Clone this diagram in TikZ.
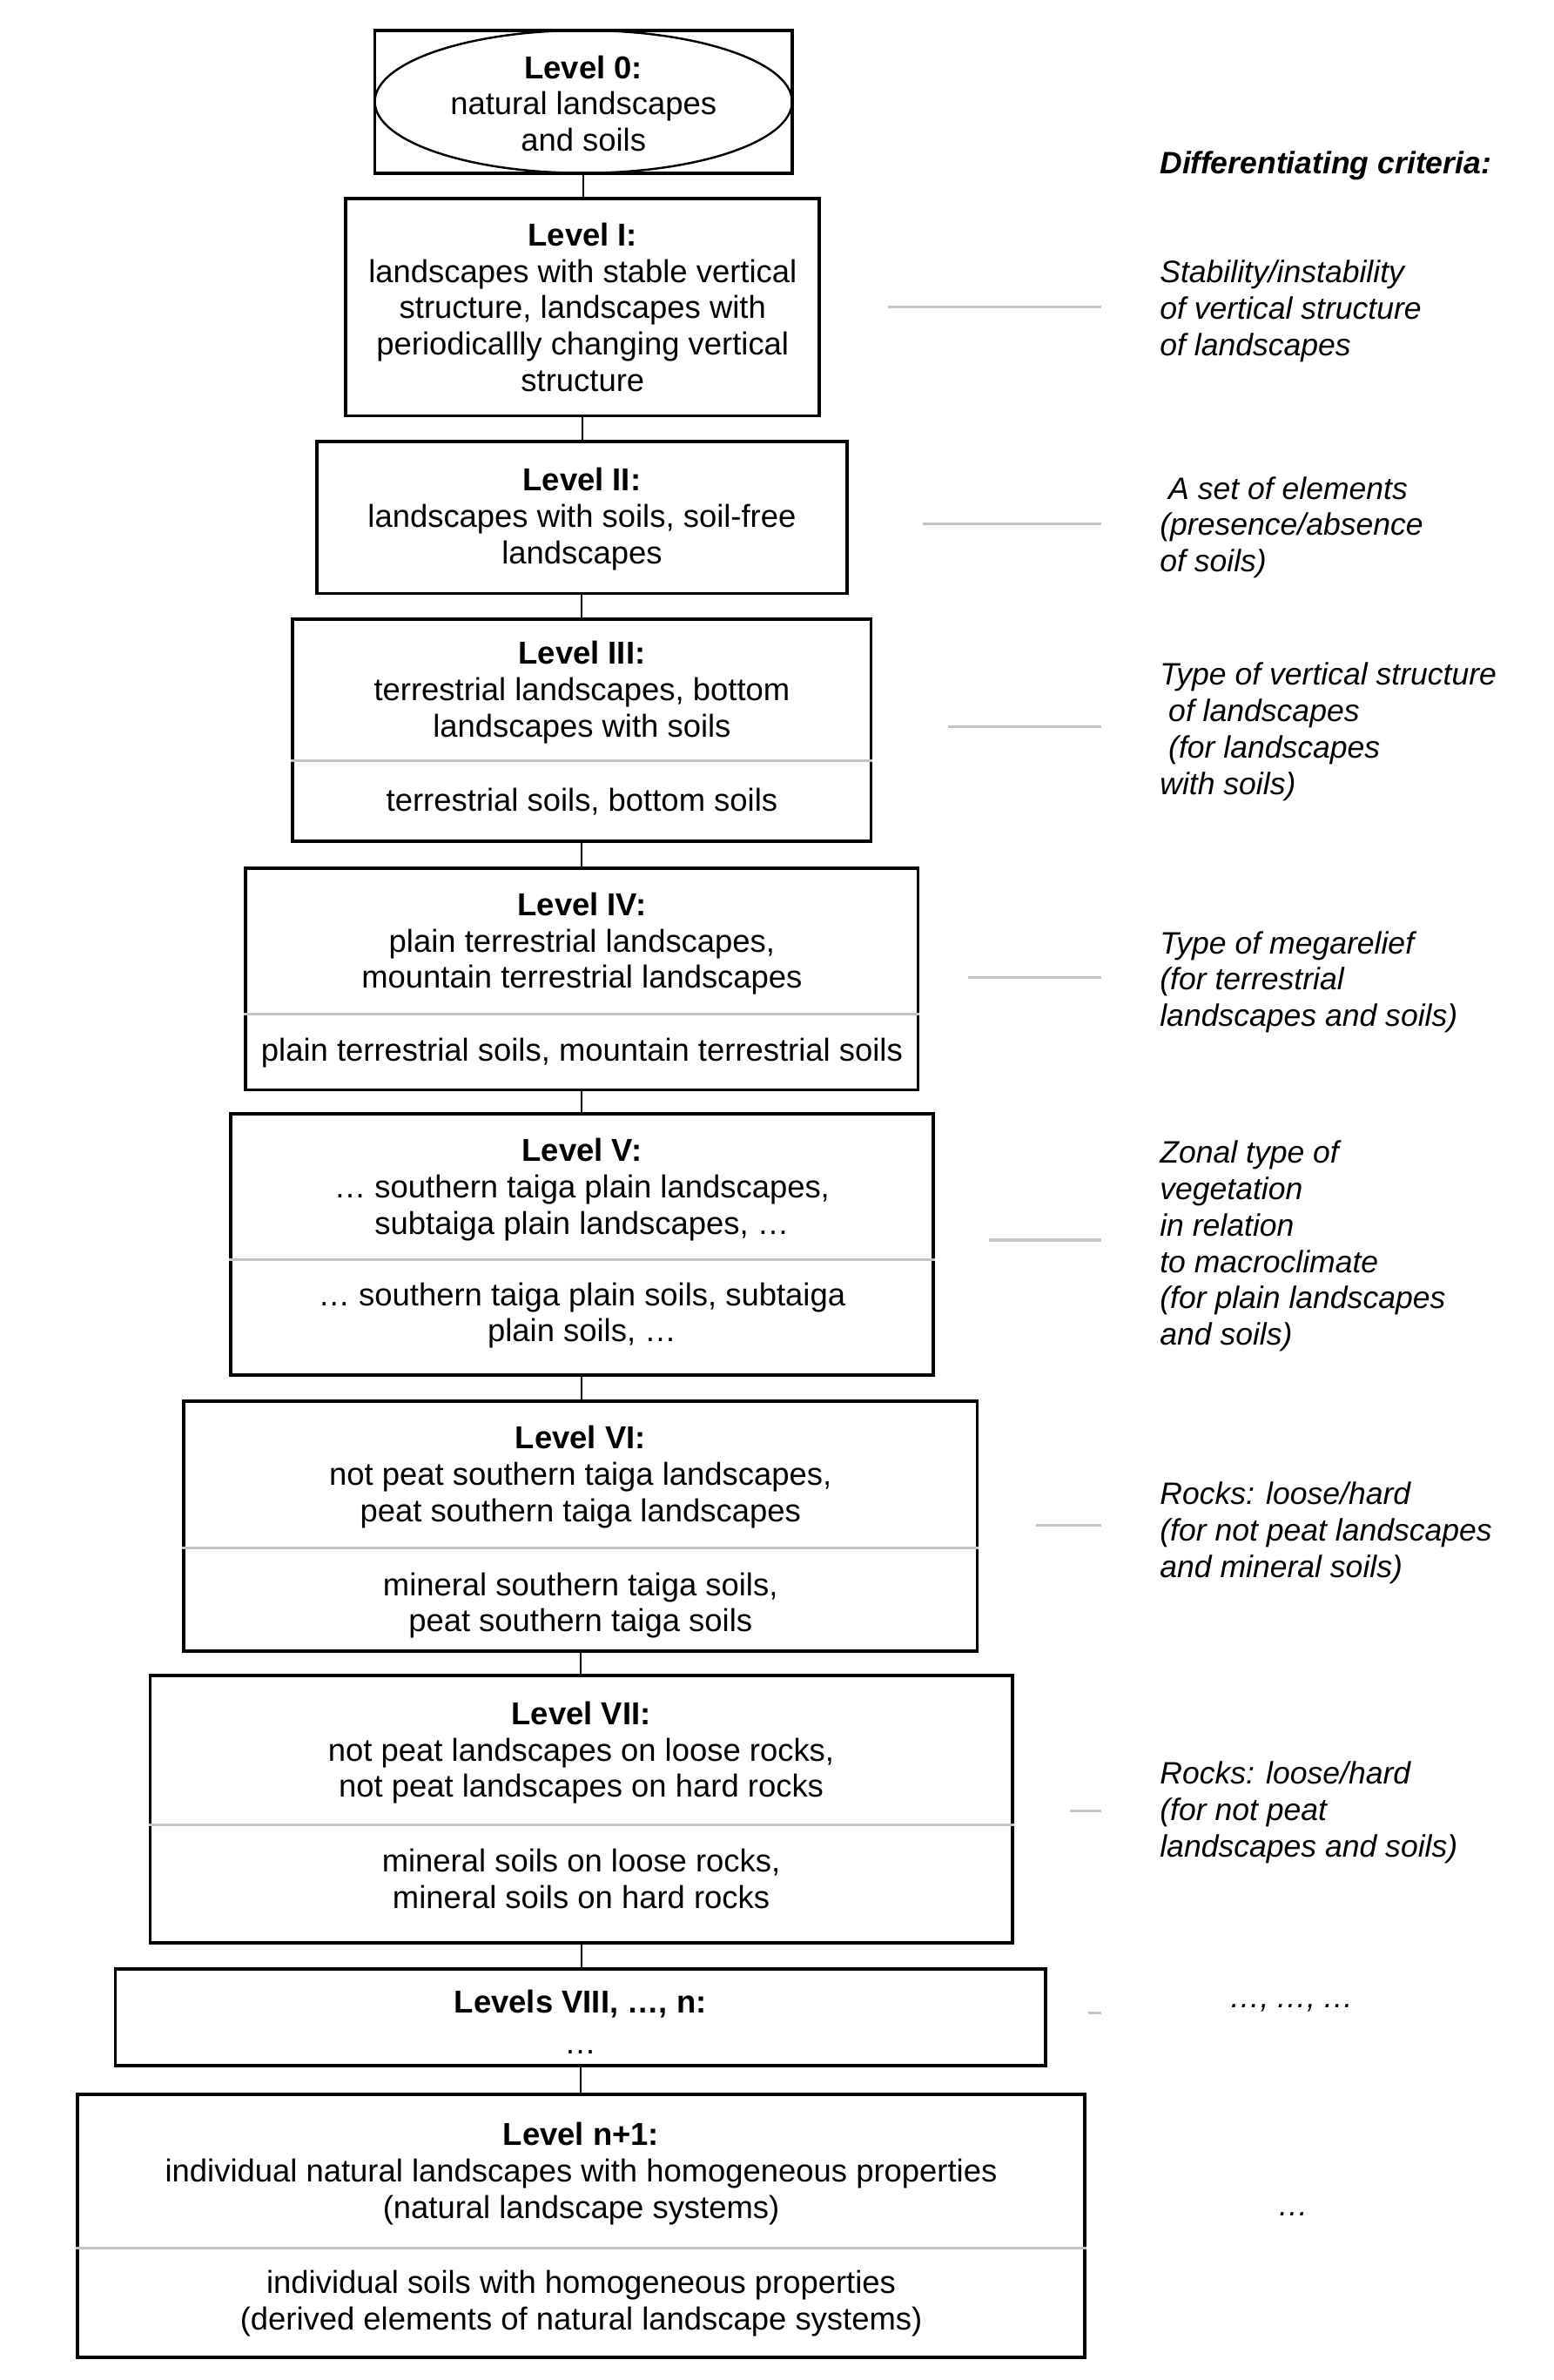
\documentclass[tikz,border=0pt]{standalone}
\usepackage{fontspec}
\setmainfont{Liberation Sans}
\usetikzlibrary{shapes.geometric}
\definecolor{gridgray}{HTML}{C4C4C4}
\newcommand\boxfont{\fontsize{10.45pt}{12pt}\selectfont}
\newcommand\critfont{\fontsize{10.2pt}{12pt}\selectfont\itshape}
\begin{document}
\begin{tikzpicture}[x=0.5pt,y=-0.5pt,
  lvbox/.style={draw, line width=1.1pt, inner sep=0pt},
  part/.style={inner sep=0pt, align=center, font=\boxfont},
  upper/.style={part, anchor=north, yshift=-1.2pt},
  lower/.style={part, anchor=south},
  crit/.style={anchor=west, align=left, inner sep=0pt, font=\critfont, yshift=-1pt},
  critline/.style={draw=gridgray, line width=0.9pt},
  divider/.style={draw=gridgray, line width=0.9pt},
  conn/.style={line width=0.6pt}]
\useasboundingbox (0,0) rectangle (1024,1568);
\fill[white] (0,0) rectangle (1024,1568);

% Level 0
\node[lvbox, minimum width=137.5pt, minimum height=47pt] (L0) at (384.5,67) {};
\node[draw, ellipse, line width=0.7pt, minimum width=137.5pt, minimum height=47pt] (L0e) at (384.5,67) {};
\node[part, yshift=-0.6pt] (L0t) at (L0e.center) {\textbf{Level 0:}\\natural landscapes\\and soils};

% Level I
\node[lvbox, minimum width=156pt, minimum height=71.5pt] (L1) at (384,202.5) {};
\node[part] (L1a) at (L1.center) {\textbf{Level I:}\\landscapes with stable vertical\\structure, landscapes with\\periodicallly changing vertical\\structure};

% Level II
\node[lvbox, minimum width=174.5pt, minimum height=50pt] (L2) at (383.5,341) {};
\node[part, yshift=-0.5pt] (L2a) at (L2.center) {\textbf{Level II:}\\landscapes with soils, soil-free\\landscapes};

% Level III
\node[lvbox, minimum width=190.5pt, minimum height=73pt] (L3) at (383.5,481) {};
\node[upper, minimum width=190.5pt, minimum height=46.5pt] (L3a) at (L3.north) {\textbf{Level III:}\\terrestrial landscapes, bottom\\landscapes with soils};
\node[lower, minimum width=190.5pt, minimum height=26.5pt] (L3b) at (L3.south) {terrestrial soils, bottom soils};
\draw[divider] (L3.west |- 0,501) -- (L3.east |- 0,501);

% Level IV
\node[lvbox, minimum width=221.5pt, minimum height=73pt] (L4) at (383.5,645) {};
\node[upper, minimum width=221.5pt, minimum height=48pt] (L4a) at (L4.north) {\textbf{Level IV:}\\plain terrestrial landscapes,\\mountain terrestrial landscapes};
\node[lower, minimum width=221.5pt, minimum height=25pt] (L4b) at (L4.south) {plain terrestrial soils, mountain terrestrial soils};
\draw[divider] (L4.west |- 0,668) -- (L4.east |- 0,668);

% Level V
\node[lvbox, minimum width=231.5pt, minimum height=86pt] (L5) at (383.5,820) {};
\node[upper, minimum width=231.5pt, minimum height=48pt] (L5a) at (L5.north) {\textbf{Level V:}\\… southern taiga plain landscapes,\\subtaiga plain landscapes, …};
\node[lower, minimum width=231.5pt, minimum height=38pt, yshift=1pt] (L5b) at (L5.south) {… southern taiga plain soils, subtaiga\\plain soils, …};
\draw[divider] (L5.west |- 0,830) -- (L5.east |- 0,830);

% Level VI
\node[lvbox, minimum width=261.5pt, minimum height=82.5pt] (L6) at (382.5,1005.5) {};
\node[upper, minimum width=261.5pt, minimum height=48.5pt] (L6a) at (L6.north) {\textbf{Level VI:}\\not peat southern taiga landscapes,\\peat southern taiga landscapes};
\node[lower, minimum width=261.5pt, minimum height=34pt, yshift=-1.5pt] (L6b) at (L6.south) {mineral southern taiga soils,\\peat southern taiga soils};
\draw[divider] (L6.west |- 0,1020) -- (L6.east |- 0,1020);

% Level VII
\node[lvbox, minimum width=284pt, minimum height=88pt] (L7) at (383,1192) {};
\node[upper, minimum width=284pt, minimum height=49pt] (L7a) at (L7.north) {\textbf{Level VII:}\\not peat landscapes on loose rocks,\\not peat landscapes on hard rocks};
\node[lower, minimum width=284pt, minimum height=39pt, yshift=2pt] (L7b) at (L7.south) {mineral soils on loose rocks,\\mineral soils on hard rocks};
\draw[divider] (L7.west |- 0,1202) -- (L7.east |- 0,1202);

% Levels VIII ... n
\node[lvbox, minimum width=306.5pt, minimum height=32pt] (L8) at (382.5,1329) {};
\node[part, yshift=-1.5pt] (L8a) at (L8.center) {\textbf{Levels VIII, …, n:}\\[1.5pt]…};

% Level n+1
\node[lvbox, minimum width=332pt, minimum height=86.5pt] (L9) at (383,1466.5) {};
\node[upper, minimum width=332pt, minimum height=50.5pt] (L9a) at (L9.north) {\textbf{Level n+1:}\\individual natural landscapes with homogeneous properties\\(natural landscape systems)};
\node[lower, minimum width=332pt, minimum height=36pt] (L9b) at (L9.south) {individual soils with homogeneous properties\\(derived elements of natural landscape systems)};
\draw[divider] (L9.west |- 0,1481) -- (L9.east |- 0,1481);

% vertical connectors
\draw[conn] (L0.south) -- (L0.south |- L1.north);
\draw[conn] (L1.south) -- (L1.south |- L2.north);
\draw[conn] (L2.south) -- (L2.south |- L3.north);
\draw[conn] (L3.south) -- (L3.south |- L4.north);
\draw[conn] (L4.south) -- (L4.south |- L5.north);
\draw[conn] (L5.south) -- (L5.south |- L6.north);
\draw[conn] (L6.south) -- (L6.south |- L7.north);
\draw[conn] (L7.south) -- (L7.south |- L8.north);
\draw[conn] (L8.south) -- (L8.south |- L9.north);

% criteria
\node[anchor=west, inner sep=0pt, font=\critfont\bfseries, yshift=-1.5pt] (ch) at (764,106) {Differentiating criteria:};
\node[crit] (c1) at (764,203) {Stability/instability\\of vertical structure\\of landscapes};
\node[crit] (c2) at (764,345.5) {\ A set of elements\\(presence/absence\\of soils)};
\node[crit] (c3) at (764,480) {Type of vertical structure\\\ of landscapes\\\ (for landscapes\\with soils)};
\node[crit] (c4) at (764,645) {Type of megarelief\\(for terrestrial\\landscapes and soils)};
\node[crit] (c5) at (764,819) {Zonal type of\\vegetation\\in relation\\to macroclimate\\(for plain landscapes\\and soils)};
\node[crit] (c6) at (764,1008) {Rocks: loose/hard\\(for not peat landscapes\\and mineral soils)};
\node[crit] (c7) at (764,1192) {Rocks: loose/hard\\(for not peat\\landscapes and soils)};
\node[inner sep=0pt, font=\critfont, yshift=-1.5pt] (c8) at (851,1320) {…,\kern-0.5pt\ …,\kern-0.5pt\ …};
\node[inner sep=0pt, font=\critfont] (c9) at (852,1459) {…};

% criteria lines
\coordinate (k1a) at (585,202);  \coordinate (k1b) at (726,202);
\coordinate (k2a) at (608,345);  \coordinate (k2b) at (726,345);
\coordinate (k3a) at (625,479);  \coordinate (k3b) at (726,479);
\coordinate (k4a) at (638,644);  \coordinate (k4b) at (726,644);
\coordinate (k5a) at (652,817);  \coordinate (k5b) at (726,817);
\coordinate (k6a) at (683,1005); \coordinate (k6b) at (726,1005);
\coordinate (k7a) at (705,1193); \coordinate (k7b) at (726,1193);
\coordinate (k8a) at (717,1326); \coordinate (k8b) at (726,1326);
\draw[critline] (k1a) -- (k1b);
\draw[critline] (k2a) -- (k2b);
\draw[critline] (k3a) -- (k3b);
\draw[critline] (k4a) -- (k4b);
\draw[critline] (k5a) -- (k5b);
\draw[critline] (k6a) -- (k6b);
\draw[critline] (k7a) -- (k7b);
\draw[critline] (k8a) -- (k8b);
\end{tikzpicture}
\end{document}
